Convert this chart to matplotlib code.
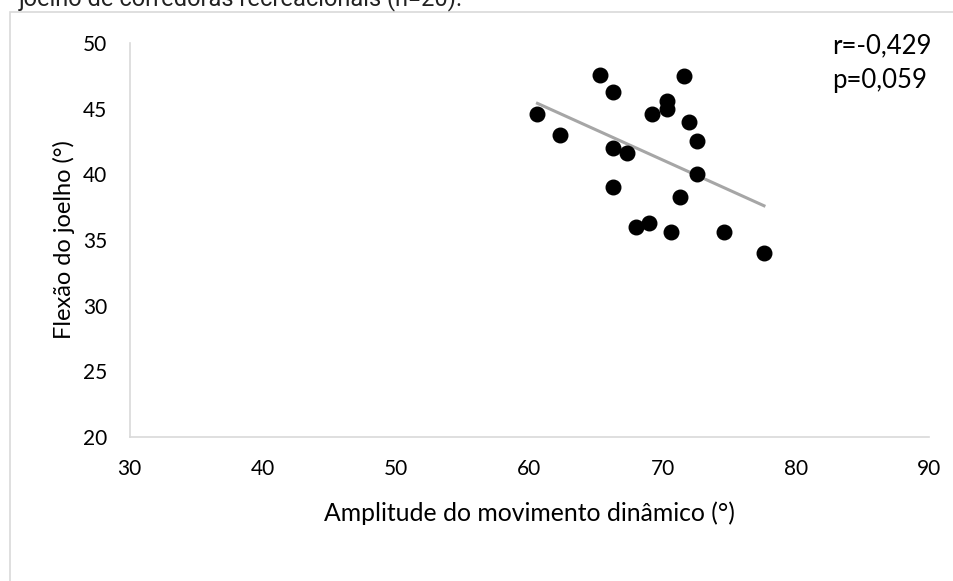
import matplotlib.pyplot as plt
import numpy as np
from matplotlib.patches import Rectangle

# amplitude do movimento dinamico (x) vs flexao do joelho (y)
amplitude = [60.6, 62.3, 65.3, 66.3, 66.3, 67.3, 66.3, 68.0, 69.0, 69.2,
             70.3, 70.3, 70.6, 71.6, 72.0, 72.6, 72.6, 71.3, 74.6, 77.6]
flexao = [44.6, 43.0, 47.6, 46.3, 42.0, 41.6, 39.0, 36.0, 36.3, 44.6,
          45.6, 45.0, 35.6, 47.5, 44.0, 42.5, 40.0, 38.3, 35.6, 34.0]
x_ticks = [30, 40, 50, 60, 70, 80, 90]
y_ticks = [20, 25, 30, 35, 40, 45, 50]
r_text = 'r=-0,429'
p_text = 'p=0,059'

plt.rcParams['font.family'] = ['Lato', 'DejaVu Sans']

fig = plt.figure(figsize=(9.54, 5.81), dpi=100)
ax = fig.add_axes([0.136, 0.248, 0.838, 0.678])

# frame around the chart area
fig.patches.append(Rectangle((10 / 954, -0.01), 1.0, 1 - 12 / 581 + 0.01,
                             transform=fig.transFigure, fill=False,
                             edgecolor='#d9d9d9', linewidth=1.2))
# caption of the figure, cut at the top edge as in the source
fig.text(19 / 954, 1 - 5 / 581, 'joelho de corredoras recreacionais (n=20).',
         fontsize=17, va='baseline', ha='left', color='#222222',
         family=['Roboto', 'DejaVu Sans'])

ax.scatter(amplitude, flexao, s=110, color='black', zorder=3)

# linear trend
xa = np.array(amplitude)
coef = np.polyfit(xa, np.array(flexao), 1)
xl = np.array([xa.min(), xa.max()])
ax.plot(xl, np.polyval(coef, xl), color='#a6a6a6', linewidth=2.2, zorder=2)

ax.set_xlim(30, 90)
ax.set_ylim(20, 50)
ax.set_xticks(x_ticks)
ax.set_yticks(y_ticks)
ax.tick_params(length=0, labelsize=15)
ax.tick_params(axis='x', pad=16)
ax.tick_params(axis='y', pad=16)
for s in ['top', 'right']:
    ax.spines[s].set_visible(False)
for s in ['left', 'bottom']:
    ax.spines[s].set_color('#d9d9d9')
    ax.spines[s].set_linewidth(1.2)

ax.set_xlabel('Amplitude do movimento dinâmico (°)', fontsize=17.8, labelpad=16)
ax.set_ylabel('Flexão do joelho (°)', fontsize=17, labelpad=6)

fig.text(832 / 954, 1 - 53 / 581, r_text, ha='left', va='baseline', fontsize=18.5)
fig.text(832 / 954, 1 - 88 / 581, p_text, ha='left', va='baseline', fontsize=18.5)

fig.savefig('out.png', dpi=100)
